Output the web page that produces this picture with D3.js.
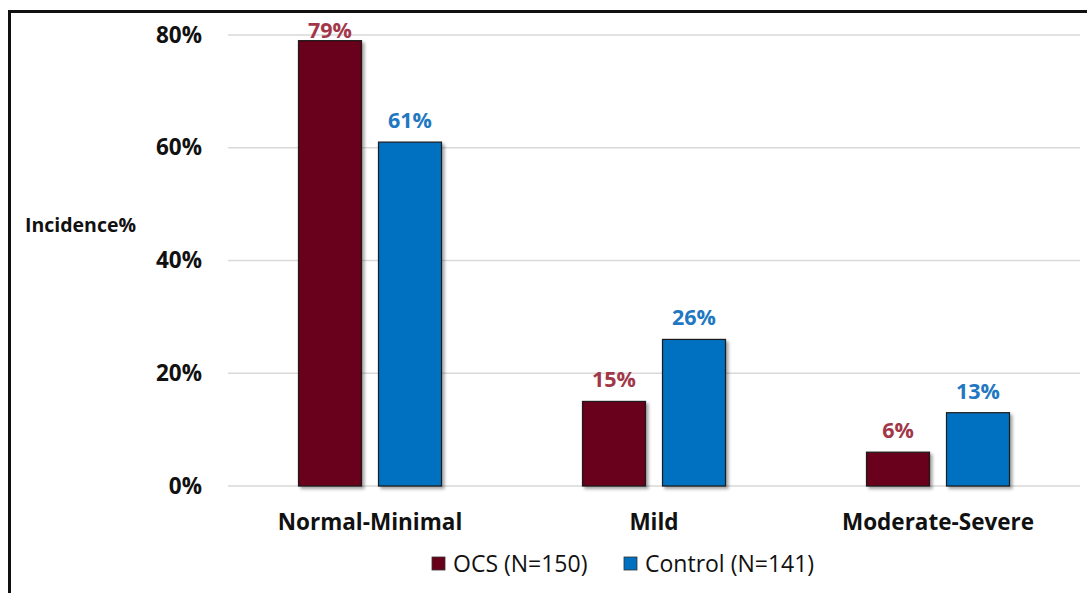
<!DOCTYPE html>
<html>
<head>
<meta charset="utf-8">
<script src="https://cdn.jsdelivr.net/npm/d3@7"></script>
<style>
  html, body { margin: 0; padding: 0; background: #fff; }
  svg { display: block; }
  text { font-family: "Open Sans", sans-serif; }
</style>
</head>
<body>
<script>
// Severity categories and incidence per group (percent)
const categories = ["Normal-Minimal", "Mild", "Moderate-Severe"];
const seriesNames = ["OCS (N=150)", "Control (N=141)"];
const ocsValues = [79, 15, 6];
const controlValues = [61, 26, 13];
const yTicks = [0, 20, 40, 60, 80];

const W = 1087, H = 593;
const FONT = "'Open Sans', sans-serif";
const fills = ["#69001A", "#0070C0"];
const labelColors = ["#A3374A", "#1F78C1"];

const svg = d3.select("body").append("svg").attr("width", W).attr("height", H);

const defs = svg.append("defs");
const f = defs.append("filter").attr("id", "shadow")
  .attr("x", "-10%").attr("y", "-10%").attr("width", "130%").attr("height", "130%");
f.append("feDropShadow").attr("dx", 2.5).attr("dy", 2.5).attr("stdDeviation", 1.5)
  .attr("flood-color", "#000").attr("flood-opacity", 0.35);

// outer frame
svg.append("path")
  .attr("d", `M9.5,${H} L9.5,11.5 L${W},11.5`)
  .attr("fill", "none").attr("stroke", "#111").attr("stroke-width", 3);

const x0 = d3.scaleBand().domain(categories).range([228, 1080]).padding(0);
const x1 = d3.scaleBand().domain(seriesNames)
  .range([70.5, 213.5]).paddingInner(17 / 80).paddingOuter(0);
const y = d3.scaleLinear().domain([0, 80]).range([486, 35]);

// gridlines
svg.append("g").selectAll("line").data(yTicks).join("line")
  .attr("x1", 228).attr("x2", 1080)
  .attr("y1", d => y(d)).attr("y2", d => y(d))
  .attr("stroke", "#d9d9d9").attr("stroke-width", 1.5);

// y axis labels
const yAxis = d3.axisLeft(y).tickValues(yTicks).tickFormat(d => d + "%").tickSize(0).tickPadding(0);
const ya = svg.append("g").attr("transform", "translate(202,0)").call(yAxis);
ya.select(".domain").remove();
ya.selectAll("text").attr("font-size", 22.5).attr("font-weight", 700).attr("fill", "#111")
  .attr("font-family", FONT);

svg.append("text").attr("x", 25).attr("y", 232).text("Incidence%")
  .attr("font-size", 19.5).attr("font-weight", 700).attr("fill", "#111");

const rows = categories.map((c, i) => ({ cat: c, vals: [ocsValues[i], controlValues[i]] }));

const groups = svg.append("g").selectAll("g").data(rows).join("g")
  .attr("transform", d => `translate(${x0(d.cat)},0)`);

groups.selectAll("rect").data(d => d.vals.map((v, j) => ({ v, j })))
  .join("rect")
  .attr("x", d => x1(seriesNames[d.j]))
  .attr("width", x1.bandwidth())
  .attr("y", d => y(d.v))
  .attr("height", d => y(0) - y(d.v))
  .attr("fill", d => fills[d.j])
  .attr("stroke", "#1a1a1a").attr("stroke-width", 1.2)
  .attr("filter", "url(#shadow)");

// value labels sit above each bar, kept inside the frame
groups.selectAll("text.val").data(d => d.vals.map((v, j) => ({ v, j })))
  .join("text").attr("class", "val")
  .attr("x", d => x1(seriesNames[d.j]) + x1.bandwidth() / 2)
  .attr("y", d => Math.max(y(d.v) - 14, 38))
  .attr("text-anchor", "middle")
  .attr("font-size", 21.5).attr("font-weight", 700)
  .attr("fill", d => labelColors[d.j])
  .text(d => d.v + "%");

// category labels
const xAxis = d3.axisBottom(x0).tickSize(0).tickPadding(0);
const xa = svg.append("g").attr("transform", "translate(0,530)").call(xAxis);
xa.select(".domain").remove();
xa.selectAll("text").attr("font-size", 22.5).attr("font-weight", 700).attr("fill", "#111")
  .attr("dy", 0).attr("font-family", FONT);

// legend
const legendX = [432, 624];
const lg = svg.append("g").selectAll("g").data(seriesNames).join("g")
  .attr("transform", (d, i) => `translate(${legendX[i]},557)`);
lg.append("rect").attr("width", 13).attr("height", 13)
  .attr("fill", (d, i) => fills[i]).attr("stroke", "#333").attr("stroke-width", 0.8);
lg.append("text").attr("x", 21).attr("y", 15).text(d => d)
  .attr("font-size", 23).attr("fill", "#111");
</script>
</body>
</html>
